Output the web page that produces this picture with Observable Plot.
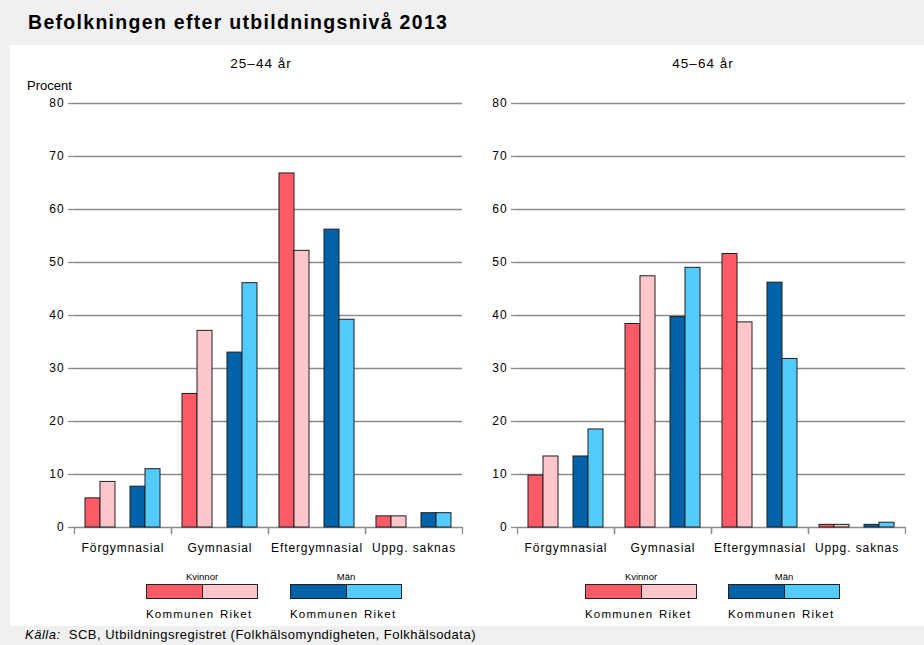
<!DOCTYPE html>
<html lang="sv">
<head>
<meta charset="utf-8">
<script src="https://cdn.jsdelivr.net/npm/d3@7"></script>
<script src="https://cdn.jsdelivr.net/npm/@observablehq/plot@0.6"></script>
<style>
  html, body { margin: 0; padding: 0; }
  body { width: 924px; height: 645px; background: #f0f0f0; position: relative; overflow: hidden;
         font-family: "Liberation Sans", Arial, sans-serif; color: #000; }
  #title { position: absolute; left: 28px; top: 11px; font-size: 19.5px; font-weight: bold; letter-spacing: 1.3px; }
  #panel { position: absolute; left: 10px; top: 45px; width: 914px; height: 581px; background: #fff; }
  .sub { position: absolute; top: 56px; font-size: 13.5px; letter-spacing: 1px; transform: translateX(-50%); white-space: nowrap; }
  #procent { position: absolute; left: 27px; top: 78px; font-size: 13px; }
  .chart { position: absolute; top: 80px; }
  .legend { position: absolute; top: 570px; width: 112px; font-size: 9.5px; }
  .legend .head { text-align: center; height: 14px; line-height: 14px; }
  .legend .box { display: flex; height: 13px; border: 1px solid #222; }
  .legend .box div { flex: 1; }
  .legend .box div + div { border-left: 1px solid #222; }
  .legend .labels { display: flex; margin-top: 9px; font-size: 11.5px; letter-spacing: 1.2px; }
  .legend .labels div { flex: 1; text-align: center; white-space: nowrap; }
  #source { position: absolute; left: 25px; top: 627px; font-size: 13px; letter-spacing: 0.5px; white-space: nowrap; }
</style>
</head>
<body>
<div id="title">Befolkningen efter utbildningsnivå 2013</div>
<div id="panel"></div>
<div id="procent">Procent</div>
<div id="source"><i>Källa:</i>&nbsp; SCB, Utbildningsregistret (Folkhälsomyndigheten, Folkhälsodata)</div>
<script>
// ---- data ----
const categories = ["Förgymnasial", "Gymnasial", "Eftergymnasial", "Uppg. saknas"];
const seriesKeys = ["Kvinnor Kommunen", "Kvinnor Riket", "Män Kommunen", "Män Riket"];
const seriesColors = ["#ff5b66", "#ffc7cb", "#0063a9", "#54cbff"];
const groups = ["Kvinnor", "Män"];
const groupLabels = ["Kommunen", "Riket"];
const yTicks = [0, 10, 20, 30, 40, 50, 60, 70, 80];

const panelTitles = ["25–44 år", "45–64 år"];
// 25–44 år
const kvinnorKommunen25 = [5.5, 25.2, 66.8, 2.1];
const kvinnorRiket25    = [8.6, 37.1, 52.2, 2.1];
const manKommunen25     = [7.7, 33.0, 56.2, 2.7];
const manRiket25        = [11.0, 46.1, 39.2, 2.7];
// 45–64 år
const kvinnorKommunen45 = [9.8, 38.4, 51.6, 0.5];
const kvinnorRiket45    = [13.4, 47.4, 38.7, 0.5];
const manKommunen45     = [13.4, 39.7, 46.2, 0.5];
const manRiket45        = [18.5, 49.0, 31.8, 0.9];

// ---- build tables ----
function table(seriesValues) {
  const rows = [];
  seriesValues.forEach((vals, s) => {
    vals.forEach((v, c) => rows.push({category: categories[c], series: seriesKeys[s], value: v}));
  });
  return rows;
}
const data25 = table([kvinnorKommunen25, kvinnorRiket25, manKommunen25, manRiket25]);
const data45 = table([kvinnorKommunen45, kvinnorRiket45, manKommunen45, manRiket45]);

const gap = "mellanrum";
const xSlots = [seriesKeys[0], seriesKeys[1], gap, seriesKeys[2], seriesKeys[3]];
const grey = "#8c8c8c";
const H = 477, MT = 23, MB = 30;

function chart(data, width, marginLeft, marginRight) {
  return Plot.plot({
    width, height: H, marginTop: MT, marginBottom: MB, marginLeft, marginRight,
    style: {background: "transparent", fontFamily: "Liberation Sans, Arial, sans-serif", fontSize: "12px", color: "#000", letterSpacing: "0.9px"},
    fx: {domain: categories, padding: 0, axis: null, label: null},
    x: {domain: xSlots, padding: 0, axis: null, insetLeft: 11, insetRight: 11},
    y: {domain: [0, 80], axis: null},
    color: {domain: seriesKeys, range: seriesColors},
    marks: [
      Plot.gridY(yTicks, {stroke: grey, strokeOpacity: 1, strokeWidth: 1.3}),
      Plot.barY(data, {fx: "category", x: "series", y: "value", fill: "series", stroke: "#1e1e1e", strokeWidth: 1}),
      Plot.frame({anchor: "left", stroke: grey, strokeWidth: 1.3, insetTop: H - MT - MB, insetBottom: -6}),
      Plot.frame({anchor: "right", stroke: grey, strokeWidth: 1.3, insetTop: H - MT - MB, insetBottom: -6}),
      Plot.axisY({ticks: yTicks, tickSize: 6, tickPadding: 4, label: null, line: true, stroke: grey, fill: "#000", strokeWidth: 1.3, fontSize: 12}),
      Plot.axisFx({anchor: "bottom", tickSize: 0, tickPadding: 16, label: null, fontSize: 12, fill: "#000"})
    ]
  });
}

const specs = [
  {data: data25, left: 10, width: 470, ml: 64, mr: 18, title: 261, legend: [146, 290]},
  {data: data45, left: 480, width: 444, ml: 37, mr: 19, title: 703, legend: [585, 728]}
];

specs.forEach((sp, i) => {
  const wrap = document.createElement("div");
  wrap.className = "chart";
  wrap.style.left = sp.left + "px";
  wrap.appendChild(chart(sp.data, sp.width, sp.ml, sp.mr));
  document.body.appendChild(wrap);

  const t = document.createElement("div");
  t.className = "sub";
  t.style.left = sp.title + "px";
  t.textContent = panelTitles[i];
  document.body.appendChild(t);

  groups.forEach((g, gi) => {
    const lg = document.createElement("div");
    lg.className = "legend";
    lg.style.left = sp.legend[gi] + "px";
    const head = document.createElement("div");
    head.className = "head";
    head.textContent = g;
    const box = document.createElement("div");
    box.className = "box";
    const labels = document.createElement("div");
    labels.className = "labels";
    [0, 1].forEach(k => {
      const cell = document.createElement("div");
      cell.style.background = seriesColors[gi * 2 + k];
      box.appendChild(cell);
      const lab = document.createElement("div");
      lab.textContent = groupLabels[k];
      labels.appendChild(lab);
    });
    lg.appendChild(head);
    lg.appendChild(box);
    lg.appendChild(labels);
    document.body.appendChild(lg);
  });
});
</script>
</body>
</html>
